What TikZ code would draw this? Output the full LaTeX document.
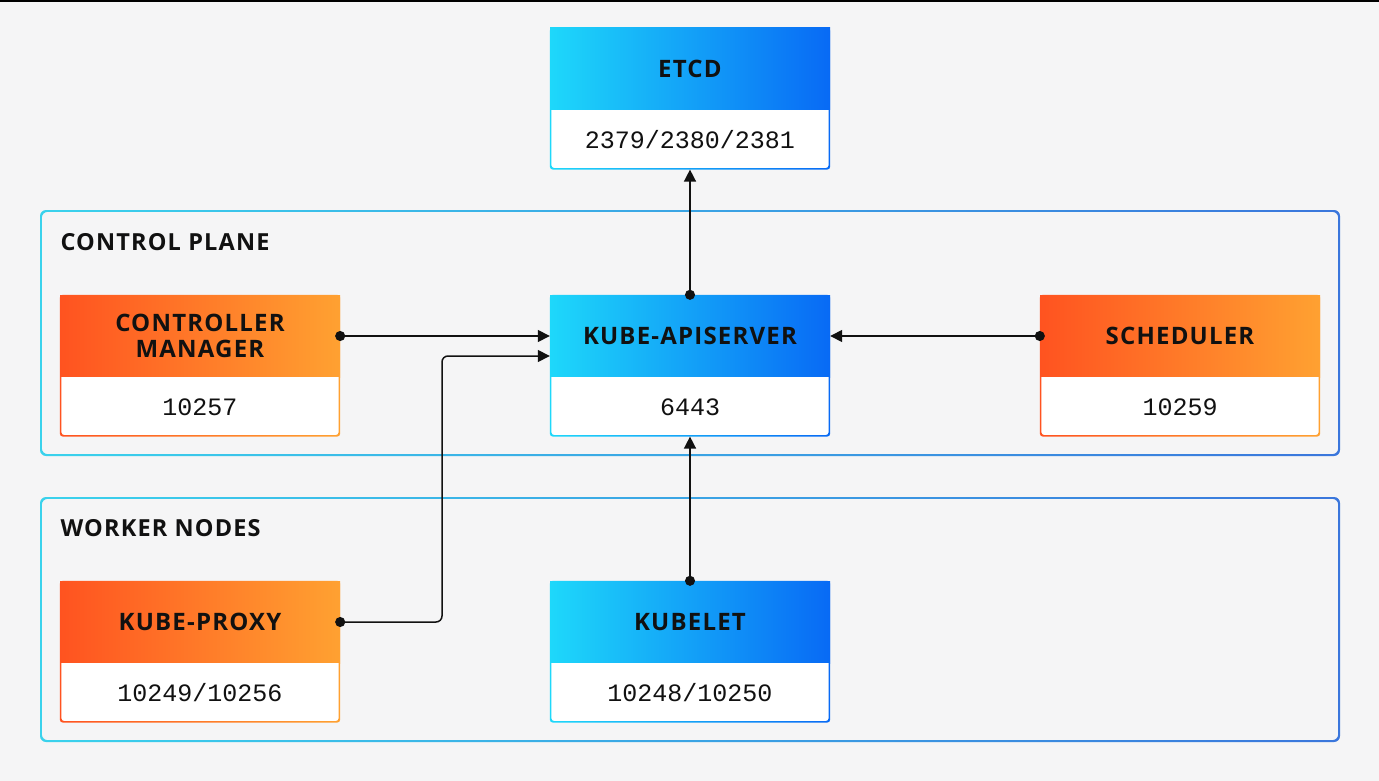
\documentclass[tikz,border=0pt]{standalone}
\usepackage{fontspec}
\setmainfont{Open Sans}
\newfontfamily\hdfont[LetterSpace=5]{Open Sans}
\newfontfamily\portfont{Liberation Mono}
\usetikzlibrary{arrows.meta,positioning,calc}
\definecolor{bg}{HTML}{F5F5F6}
\definecolor{ink}{HTML}{111111}
\definecolor{cyL}{HTML}{1ED8FA}
\definecolor{cyR}{HTML}{086AF5}
\definecolor{orL}{HTML}{FF5320}
\definecolor{orR}{HTML}{FFA131}
\definecolor{fcL}{HTML}{3AD2EC}
\definecolor{fcR}{HTML}{3A76DC}

\begin{document}
\begin{tikzpicture}[x=1pt,y=-1pt,
   hd/.style={minimum width=280pt,minimum height=82pt,inner sep=0pt,align=center,
              font=\hdfont\bfseries\fontsize{24}{26}\selectfont,text=ink},
   cyhd/.style={hd,left color=cyL,right color=cyR},
   orhd/.style={hd,left color=orL,right color=orR},
   port/.style={fill=white,minimum width=280pt,minimum height=59pt,inner sep=0pt,
                font=\portfont\fontsize{25}{30}\selectfont,text=ink,below=0pt of #1},
   grp/.style={anchor=west,font=\hdfont\bfseries\fontsize{23.5}{25}\selectfont,text=ink},
   conn/.style={line width=1.5pt,draw=ink,shorten <=-5pt,
                {Circle[length=10pt]}-{Triangle[length=12pt,width=12pt]}}]
  \useasboundingbox (0,0) rectangle (1379,781);
  \fill[bg] (0,0) rectangle (1379,781);
  \fill[black] (0,0) rectangle (1379,2);

  % group frames
  \shade[left color=fcL,right color=fcR,even odd rule,rounded corners=6pt]
    (40,210) rectangle (1340,456) (41.8,211.8) rectangle (1338.2,454.2);
  \shade[left color=fcL,right color=fcR,even odd rule,rounded corners=6pt]
    (40,497) rectangle (1340,742) (41.8,498.8) rectangle (1338.2,740.2);
  \node[grp] (cplbl) at (57,242) {CONTROL PLANE};
  \node[grp] (wnlbl) at (57,528) {WORKER NODES};

  % components
  \node[cyhd] (etcd) at (690,69) {ETCD};
  \node[port=etcd] (etcdp) {2379/2380/2381};
  \node[orhd] (cm) at (200,336) {CONTROLLER\\MANAGER};
  \node[port=cm] (cmp) {10257};
  \node[cyhd] (api) at (690,336) {KUBE-APISERVER};
  \node[port=api] (apip) {6443};
  \node[orhd] (sch) at (1180,336) {SCHEDULER};
  \node[port=sch] (schp) {10259};
  \node[orhd] (kp) at (200,622) {KUBE-PROXY};
  \node[port=kp] (kpp) {10249/10256};
  \node[cyhd] (klet) at (690,622) {KUBELET};
  \node[port=klet] (kletp) {10248/10250};

  % box outlines
  \foreach \h/\p/\cl/\cr in {etcd/etcdp/cyL/cyR,api/apip/cyL/cyR,klet/kletp/cyL/cyR,
                             cm/cmp/orL/orR,sch/schp/orL/orR,kp/kpp/orL/orR}
    \shade[left color=\cl,right color=\cr,even odd rule,rounded corners=3pt]
      (\h.north west) rectangle (\p.south east)
      ($(\h.north west)+(1.5,1.5)$) rectangle ($(\p.south east)+(-1.5,-1.5)$);

  % connections
  \coordinate (kpbend) at (442,622);
  \coordinate (apiin) at ($(api.west)+(0,20)$);
  \draw[conn] (api.north) -- (etcdp.south);
  \draw[conn] (cm.east) -- (api.west);
  \draw[conn] (sch.west) -- (api.east);
  \draw[conn] (klet.north) -- (apip.south);
  \draw[conn,rounded corners=6pt] (kp.east) -- (kpbend) |- (apiin);
\end{tikzpicture}
\end{document}
